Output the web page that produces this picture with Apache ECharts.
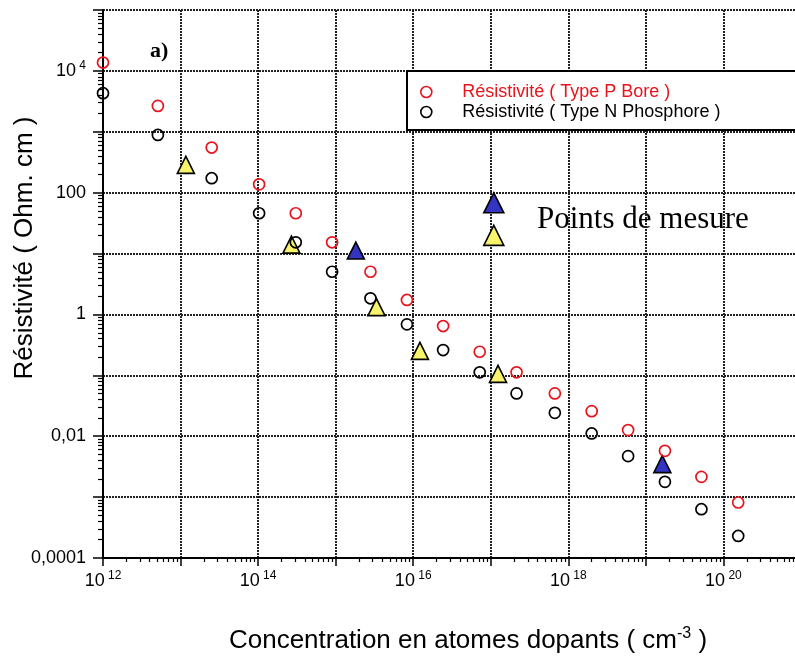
<!DOCTYPE html>
<html>
<head>
<meta charset="utf-8">
<script src="https://cdn.jsdelivr.net/npm/echarts@6/dist/echarts.min.js"></script>
<style>
  html, body { margin: 0; padding: 0; background: #fff; }
  #chart { width: 795px; height: 661px; }
</style>
</head>
<body>
<div id="chart"></div>
<script>
// Dopant concentration of the reference samples (cm^-3)
const concentration = [1.0e12, 5.1e12, 2.52e13, 1.03e14, 3.06e14, 9.0e14, 2.81e15, 8.3e15, 2.43e16, 7.2e16, 2.15e17, 6.7e17, 2.0e18, 5.9e18, 1.76e19, 5.2e19, 1.55e20];
// Resistivity, boron-doped (p-type), Ohm.cm
const rhoBore = [13700, 2660, 550, 137, 45.9, 15.3, 5.03, 1.73, 0.644, 0.244, 0.112, 0.0505, 0.0258, 0.0126, 0.00575, 0.00215, 0.000815];
// Resistivity, phosphorus-doped (n-type), Ohm.cm
const rhoPhosphore = [4300, 889, 173, 45.9, 15.3, 5.03, 1.84, 0.687, 0.26, 0.112, 0.0505, 0.0242, 0.0111, 0.00471, 0.00178, 0.000633, 0.00023];

// Measured samples
const mesureJauneX = [1.17e13, 2.69e14, 3.36e15, 1.22e16, 1.24e17];
const mesureJauneY = [286, 14.0, 1.32, 0.252, 0.1057];
const mesureBleueX = [1.82e15, 1.63e19];
const mesureBleueY = [11.2, 0.00348];

// Axis ticks and labels
const xDecades = [1e12, 1e13, 1e14, 1e15, 1e16, 1e17, 1e18, 1e19, 1e20, 1e21];
const xLabelValues = [1e12, 1e14, 1e16, 1e18, 1e20];
const xLabelExponents = ['12', '14', '16', '18', '20'];
const yDecades = [1e-4, 1e-3, 1e-2, 1e-1, 1, 1e1, 1e2, 1e3, 1e4, 1e5];
const yLabelValues = [1e-4, 1e-2, 1, 1e2, 1e4];
const yLabelTexts = ['0,0001', '0,01', '1', '100', '10^4'];

const SANS = '"Liberation Sans", Arial, sans-serif';
const SERIF = '"Liberation Serif", "Times New Roman", serif';
const RED = '#e8141c';
const YELLOW = '#f7f36a';
const BLUE = '#3434c2';

// minor log ticks 2..9 within every decade
function minorTicks(decades) {
  const out = [];
  for (let i = 0; i < decades.length - 1; i++) {
    for (let m = 2; m <= 9; m++) out.push(m * decades[i]);
  }
  return out;
}

function decadeIndex(list, v) {
  const e = Math.round(Math.log10(v));
  return list.findIndex(d => Math.round(Math.log10(d)) === e);
}

function supText(s) {
  const parts = s.split('^');
  return parts.length > 1 ? '{b|' + parts[0] + '}{s| ' + parts[1] + '}' : '{b|' + s + '}';
}

const labelRich = {
  b: { fontSize: 18, fontFamily: SANS, color: '#000' },
  s: { fontSize: 12, fontFamily: SANS, color: '#000', padding: [0, 0, 10, 0] }
};

const gridLine = { show: true, lineStyle: { color: '#222', width: 2, type: [2, 1] } };

const pairs = (xs, ys) => xs.map((x, i) => [x, ys[i]]);

const chart = echarts.init(document.getElementById('chart'), null, { renderer: 'canvas' });

chart.setOption({
  animation: false,
  backgroundColor: '#fff',
  grid: { left: 103, top: 10, right: -6, bottom: 103, containLabel: false, outerBoundsMode: 'none' },
  xAxis: [
    {
      type: 'log', logBase: 10, min: 1e12, max: 1e21, position: 'bottom',
      axisLine: { show: true, onZero: false, lineStyle: { color: '#000', width: 2 } },
      axisTick: { show: true, inside: false, length: 8, customValues: xDecades, lineStyle: { color: '#000', width: 1.5 } },
      axisLabel: {
        show: true, customValues: xLabelValues, margin: 12, rich: labelRich,
        formatter: v => {
          const i = decadeIndex(xLabelValues, v);
          return i < 0 ? '' : '{b|10}{s| ' + xLabelExponents[i] + '}';
        }
      },
      splitLine: gridLine
    },
    {
      type: 'log', logBase: 10, min: 1e12, max: 1e21, position: 'bottom',
      axisLine: { show: false },
      axisTick: { show: true, inside: false, length: 4, customValues: minorTicks(xDecades), lineStyle: { color: '#000', width: 1.2 } },
      axisLabel: { show: false },
      splitLine: { show: false }
    }
  ],
  yAxis: [
    {
      type: 'log', logBase: 10, min: 1e-4, max: 1e5, position: 'left',
      axisLine: { show: true, onZero: false, lineStyle: { color: '#000', width: 2 } },
      axisTick: { show: true, inside: false, length: 10, customValues: yDecades, lineStyle: { color: '#000', width: 1.5 } },
      axisLabel: {
        show: true, customValues: yLabelValues, margin: 17, rich: labelRich,
        formatter: v => {
          const i = decadeIndex(yLabelValues, v);
          return i < 0 ? '' : supText(yLabelTexts[i]);
        }
      },
      splitLine: gridLine
    },
    {
      type: 'log', logBase: 10, min: 1e-4, max: 1e5, position: 'left',
      axisLine: { show: false },
      axisTick: { show: true, inside: false, length: 5, customValues: minorTicks(yDecades), lineStyle: { color: '#000', width: 1.2 } },
      axisLabel: { show: false },
      splitLine: { show: false }
    }
  ],
  legend: [
    {
      orient: 'vertical', left: 407, top: 71,
      padding: [11, 110, 8, 13],
      backgroundColor: '#fff', borderColor: '#000', borderWidth: 2,
      itemWidth: 62, itemHeight: 11, itemGap: 0,
      selectedMode: false,
      itemStyle: { borderWidth: 1.6 },
      textStyle: { fontSize: 18, fontFamily: SANS, lineHeight: 20 },
      data: [
        { name: 'Résistivité ( Type P Bore )', textStyle: { color: RED } },
        { name: 'Résistivité ( Type N Phosphore )', textStyle: { color: '#000' } }
      ]
    },
    {
      orient: 'vertical', left: 483, top: 192, padding: 0,
      itemWidth: 20, itemHeight: 20, itemGap: 11,
      selectedMode: false,
      itemStyle: { borderWidth: 1.6 },
      formatter: () => '',
      data: ['Mesure bleue', 'Mesure jaune']
    }
  ],
  graphic: [
    {
      type: 'text', x: 150, y: 51, silent: true,
      style: { text: 'a)', font: 'bold 22px ' + SERIF, fill: '#000', textVerticalAlign: 'middle', verticalAlign: 'middle' }
    },
    {
      type: 'text', x: 537, y: 220, silent: true,
      style: { text: 'Points de mesure', font: '31px ' + SERIF, fill: '#000', textVerticalAlign: 'middle', verticalAlign: 'middle' }
    },
    {
      type: 'text', x: 25, y: 248, rotation: Math.PI / 2, silent: true,
      style: {
        text: 'Résistivité ( Ohm. cm )', font: '26px ' + SANS, fill: '#000',
        textAlign: 'center', align: 'center', textVerticalAlign: 'middle', verticalAlign: 'middle'
      }
    },
    {
      type: 'text', x: 468, y: 641, silent: true,
      style: {
        text: '{a|Concentration en atomes dopants ( cm}{s|-3}{a| )}',
        textAlign: 'center', align: 'center', textVerticalAlign: 'middle', verticalAlign: 'middle',
        rich: {
          a: { fontSize: 26, fontFamily: SANS, fill: '#000', color: '#000' },
          s: { fontSize: 16, fontFamily: SANS, fill: '#000', color: '#000', padding: [0, 0, 14, 0] }
        }
      }
    }
  ],
  series: [
    {
      name: 'Mesure jaune', type: 'scatter', symbol: 'triangle', symbolSize: 17,
      itemStyle: { color: YELLOW, borderColor: '#000', borderWidth: 1.6, opacity: 1 },
      data: pairs(mesureJauneX, mesureJauneY), z: 3
    },
    {
      name: 'Mesure bleue', type: 'scatter', symbol: 'triangle', symbolSize: 17,
      itemStyle: { color: BLUE, borderColor: '#000', borderWidth: 1.6, opacity: 1 },
      data: pairs(mesureBleueX, mesureBleueY), z: 3
    },
    {
      name: 'Résistivité ( Type P Bore )', type: 'scatter', symbol: 'circle', symbolSize: 11,
      itemStyle: { color: 'transparent', borderColor: RED, borderWidth: 1.7, opacity: 1 },
      data: pairs(concentration, rhoBore), z: 4
    },
    {
      name: 'Résistivité ( Type N Phosphore )', type: 'scatter', symbol: 'circle', symbolSize: 11,
      itemStyle: { color: 'transparent', borderColor: '#000', borderWidth: 1.7, opacity: 1 },
      data: pairs(concentration, rhoPhosphore), z: 4
    }
  ]
});
</script>
</body>
</html>
